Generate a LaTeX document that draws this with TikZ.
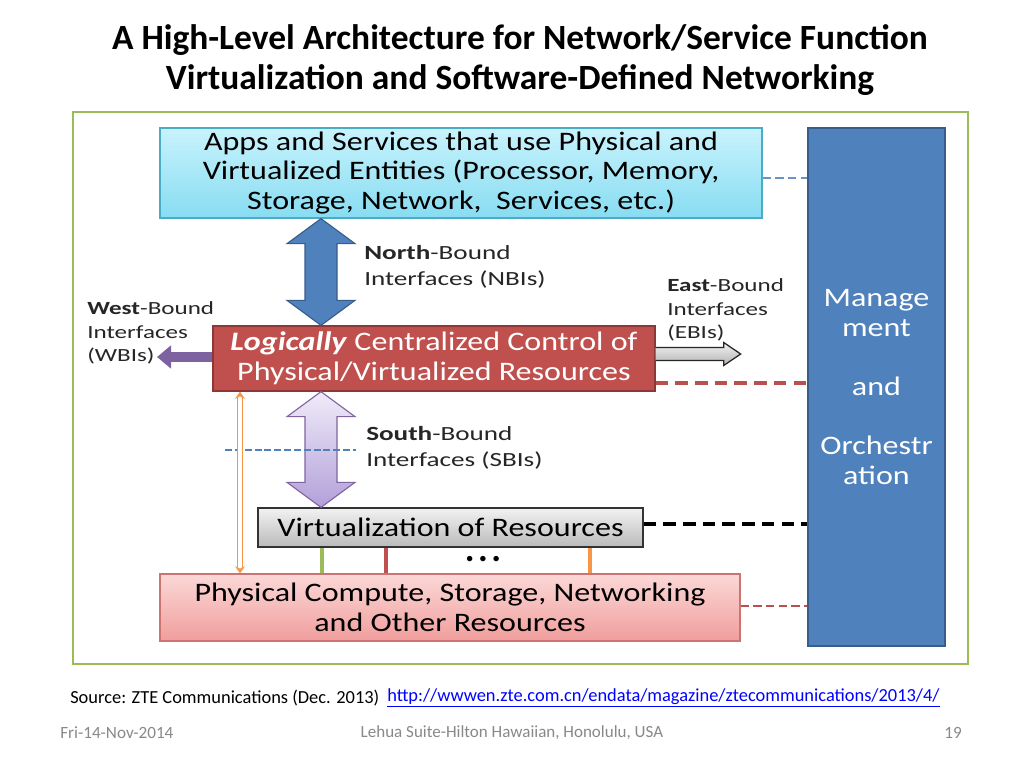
\documentclass[tikz,border=0pt]{standalone}
\usepackage{fontspec}
\setmainfont{Carlito}
\newfontfamily\boxfont{Carlito}[FakeStretch=1.2]
\newfontfamily\lblfont{Carlito}[FakeStretch=1.35]
\usetikzlibrary{arrows.meta,calc}
\definecolor{framegreen}{RGB}{155,187,89}
\definecolor{mgmtblue}{RGB}{79,129,189}
\definecolor{mgmtdark}{RGB}{56,93,138}
\definecolor{ctrlred}{RGB}{192,80,77}
\definecolor{ctrldark}{RGB}{140,56,54}
\definecolor{appstop}{RGB}{200,243,252}
\definecolor{appsbot}{RGB}{135,220,242}
\definecolor{appsline}{RGB}{75,172,198}
\definecolor{phystop}{RGB}{251,216,215}
\definecolor{physbot}{RGB}{240,158,156}
\definecolor{lavtop}{RGB}{240,235,249}
\definecolor{lavbot}{RGB}{178,160,217}
\definecolor{wbipurple}{RGB}{126,98,160}
\definecolor{sbiline}{RGB}{128,100,162}
\definecolor{linkorange}{RGB}{247,150,70}
\definecolor{linkred}{RGB}{185,80,78}
\definecolor{footgray}{RGB}{137,137,137}
\newcommand{\vdarrow}[2]{(#1) -- ++(34,25) -- ++(-18,0) -- ($(#2)+(16,-25)$) -- ++(18,0) -- (#2) -- ++(-34,-25) -- ++(18,0) -- ($(#1)+(-16,25)$) -- ++(-18,0) -- cycle}

\begin{document}
\begin{tikzpicture}[
    x=0.025cm, y=-0.025cm,
    box/.style={draw, line width=0.9pt, inner sep=0pt, align=center, font=\boxfont\fontsize{19}{21.3}\selectfont},
    lbl/.style={anchor=west, align=left, inner sep=0pt, text=black!85, font=\lblfont\fontsize{14.3}{18.5}\selectfont},
    slbl/.style={lbl, font=\lblfont\fontsize{13.2}{16.7}\selectfont},
    mgdash/.style={dashed, dash pattern=on 9pt off 5pt, line width=2pt},
    vlink/.style={line width=3pt}
  ]
  \useasboundingbox[fill=white] (0,0) rectangle (1024,768);

  \node[font=\bfseries\fontsize{25.2}{28.5}\selectfont, align=center] (title) at (520,60)
    {A High-Level Architecture for Network/Service Function\\Virtualization and Software-Defined Networking};

  \draw[framegreen, line width=2pt] (73,112) rectangle (968,664);

  \node[box, draw=appsline, top color=appstop, bottom color=appsbot, minimum width=15.05cm, minimum height=2.25cm] (apps) at (461,173)
    {Apps and Services that use Physical and\\Virtualized Entities (Processor, Memory,\\Storage, Network,\ \ Services, etc.)};
  \node[box, draw=mgmtdark, fill=mgmtblue, text=white, minimum width=3.425cm, minimum height=12.95cm,
        font=\boxfont\fontsize{19}{21.1}\selectfont] (mgmt) at (876.5,387)
    {Manage\\ment\\~\\and\\~\\Orchestr\\ation};
  \node[box, draw=ctrldark, fill=ctrlred, text=white, minimum width=11.05cm, minimum height=1.625cm] (ctrl) at (434,358.5)
    {\textbf{\textit{Logically}} Centralized Control of\\Physical/Virtualized Resources};
  \node[box, draw=black!80, top color=black!5, bottom color=black!27, minimum width=9.625cm, minimum height=0.975cm] (virt) at (450.5,527.5)
    {Virtualization of Resources};
  \node[box, draw=ctrlred!80, top color=phystop, bottom color=physbot, minimum width=14.5cm, minimum height=1.675cm] (phys) at (450,607.5)
    {Physical Compute, Storage, Networking\\and Other Resources};

  % north and south bound
  \coordinate (n0) at (apps.south -| 321,0);
  \coordinate (n1) at (ctrl.north -| 321,0);
  \draw[mgmtdark, fill=mgmtblue, line width=0.8pt] \vdarrow{n0}{n1};
  \coordinate (s0) at (ctrl.south -| 321,0);
  \coordinate (s1) at (virt.north -| 321,0);
  \draw[sbiline, top color=lavtop, bottom color=lavbot, line width=0.8pt] \vdarrow{s0}{s1};
  \draw[mgmtblue, dashed, dash pattern=on 5pt off 2pt, line width=1.8pt] (225,450) -- (356,450);

  \node[lbl] (nbi) at (364,267) {\textbf{North}-Bound\\Interfaces (NBIs)};
  \node[lbl] (sbi) at (366,448) {\textbf{South}-Bound\\Interfaces (SBIs)};
  \node[slbl] (wbi) at (87,333) {\textbf{West}-Bound\\Interfaces\\(WBIs)};
  \node[slbl] (ebi) at (667,310) {\textbf{East}-Bound\\Interfaces\\(EBIs)};

  % west and east bound
  \coordinate (wtip) at (157,357);
  \draw[wbipurple, line width=7pt, -{Triangle[length=10pt, width=16pt]}] (ctrl.west |- wtip) -- (wtip);
  \coordinate (e0) at (ctrl.east |- 0,354);
  \draw[black!85, top color=black!5, bottom color=black!30, line width=0.9pt]
    (e0) ++(0,-6.5) -- ++(68,0) -- ++(0,-5) -- ++(17,11.5) -- ++(-17,11.5) -- ++(0,-5) -- ++(-68,0);

  % links to management
  \draw[mgmtblue!85, mgdash, line width=1.5pt, dash pattern=on 6pt off 3pt] (apps.east |- 0,178) -- (mgmt.west |- 0,178);
  \draw[linkred, mgdash, line width=2.5pt] (ctrl.east |- 0,383) -- (mgmt.west |- 0,383);
  \draw[black, mgdash, line width=2.2pt] (virt.east |- 0,524) -- (mgmt.west |- 0,524);
  \draw[linkred, mgdash, line width=2pt, dash pattern=on 6pt off 3pt] (phys.east |- 0,606) -- (mgmt.west |- 0,606);

  % resource links
  \draw[linkorange, line width=1pt, double=white, double distance=2.4pt,
        {Stealth[length=5pt, width=7pt]}-{Stealth[length=5pt, width=7pt]}] (ctrl.south -| 240,0) -- (phys.north -| 240,0);
  \draw[vlink, framegreen] (virt.south -| 322,0) -- (phys.north -| 322,0);
  \draw[vlink, ctrlred] (virt.south -| 386,0) -- (phys.north -| 386,0);
  \draw[vlink, linkorange] (virt.south -| 590,0) -- (phys.north -| 590,0);
  \node[font=\bfseries\fontsize{26}{26}\selectfont, inner sep=0pt] (dots) at (483,559) {.\hspace{2.5pt}.\hspace{2.5pt}.};

  \node[anchor=west, font=\fontsize{13.1}{14}\selectfont, inner sep=0pt] (src) at (70,698) {Source: ZTE Communications (Dec. 2013)};
  \node[anchor=west, font=\fontsize{13.1}{14}\selectfont, inner sep=0pt, text=blue] (url) at (387,698)
    {\underline{http://wwwen.zte.com.cn/endata/magazine/ztecommunications/2013/4/}};
  \node[anchor=west, font=\fontsize{12.2}{14}\selectfont, text=footgray, inner sep=0pt] (date) at (60,733) {Fri-14-Nov-2014};
  \node[font=\fontsize{12.1}{14}\selectfont, text=footgray, inner sep=0pt] (venue) at (512,733) {Lehua Suite-Hilton Hawaiian, Honolulu, USA};
  \node[anchor=east, font=\fontsize{12.2}{14}\selectfont, text=footgray, inner sep=0pt] (page) at (962,733) {19};
\end{tikzpicture}
\end{document}
